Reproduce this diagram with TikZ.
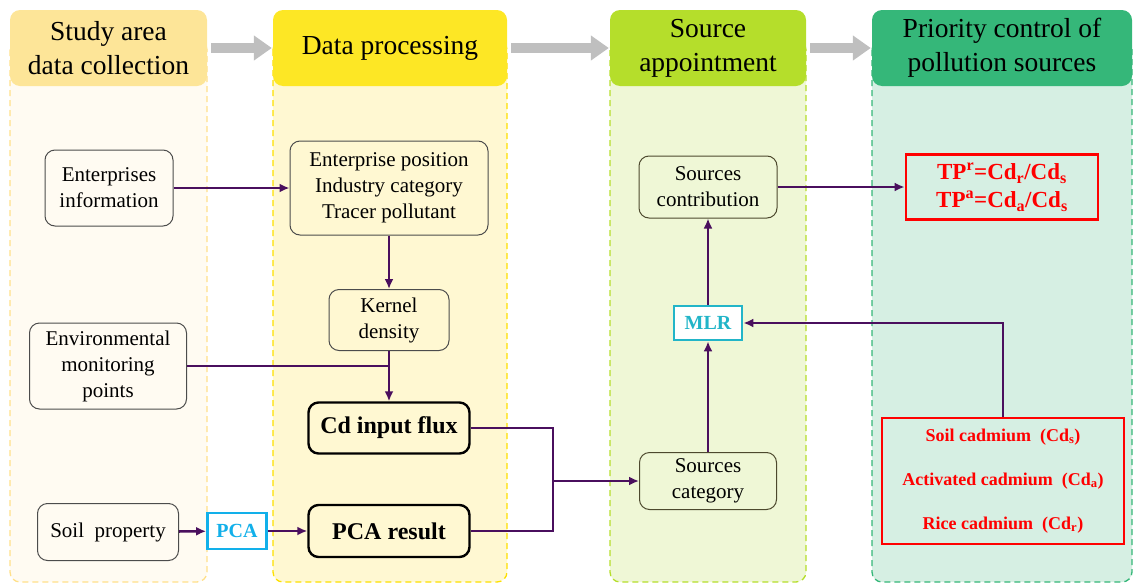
\documentclass[tikz,border=0pt]{standalone}
\usepackage{fontspec}
\setmainfont{Liberation Serif}
\newfontfamily\tnr{Liberation Serif}
\usetikzlibrary{arrows.meta}

\definecolor{headone}{HTML}{FDE598}
\definecolor{panelone}{HTML}{FFFBF2}
\definecolor{lineone}{HTML}{FFE08A}
\definecolor{headtwo}{HTML}{FDE725}
\definecolor{paneltwo}{HTML}{FFF8D2}
\definecolor{linetwo}{HTML}{FDE000}
\definecolor{headthree}{HTML}{B5DE2B}
\definecolor{panelthree}{HTML}{EFF7D6}
\definecolor{linethree}{HTML}{B5DE2B}
\definecolor{headfour}{HTML}{35B779}
\definecolor{panelfour}{HTML}{D6EFE3}
\definecolor{linefour}{HTML}{35B779}
\definecolor{linkcol}{HTML}{4A0F5E}
\definecolor{pcacol}{HTML}{12B0EA}
\definecolor{mlrcol}{HTML}{22B5C8}

\tikzset{
  head/.style={rounded corners=10pt, align=center, inner sep=2pt,
    font=\tnr\fontsize{27.5}{34}\selectfont},
  box/.style={draw=black!70, line width=1pt, rounded corners=10pt, align=center,
    inner sep=2pt, font=\tnr\fontsize{21}{26}\selectfont},
  boldbox/.style={box, draw=black, line width=2.4pt, font=\tnr\fontsize{24}{28}\selectfont\bfseries},
  method/.style={line width=2.8pt, fill=white, inner sep=2pt, font=\tnr\fontsize{20}{24}\selectfont\bfseries},
  result/.style={draw=red, line width=2.8pt, text=red, align=center, inner sep=2pt},
  link/.style={draw=linkcol, line width=2.6pt, -{Latex[length=10pt,width=9pt]}},
  wire/.style={draw=linkcol, line width=2.6pt},
  bigarrow/.style={draw=black!25, line width=10pt, -{Triangle[length=18pt,width=24pt]}}
}

\begin{document}
\begin{tikzpicture}[x=1pt, y=-1pt]
  \useasboundingbox (0,0) rectangle (1141,584);

  % columns
  \foreach \xl/\xr/\c/\txt [count=\i] in {
      10/207/one/{Study area\\data collection},
      273/507/two/{Data processing},
      610/806/three/{Source\\appointment},
      872/1132/four/{Priority control of\\pollution sources}} {
    \draw[dash pattern=on 6pt off 4pt, line width=1.3pt, draw=line\c, fill=panel\c, rounded corners=10pt]
      (\xl,40) rectangle (\xr,582);
    \node[head, fill=head\c, minimum width={\xr pt-\xl pt}, minimum height=76pt]
      (h\i) at ({(\xl+\xr)/2},48) {\txt};
  }
  \foreach \i/\j in {1/2, 2/3, 3/4}
    \draw[bigarrow, shorten <=4pt, shorten >=1pt] (h\i.east) -- (h\j.west);

  % data collection
  \node[box, fill=panelone, minimum width=128pt, minimum height=76pt] (ent) at (109,188) {Enterprises\\information};
  \node[box, fill=panelone, minimum width=157pt, minimum height=86pt] (env) at (108,366) {Environmental\\monitoring\\points};
  \node[box, fill=panelone, minimum width=141pt, minimum height=57pt] (soil) at (108,532) {Soil\ \ property};

  % data processing
  \node[box, fill=paneltwo, minimum width=198pt, minimum height=94pt] (epos) at (389,188) {Enterprise position\\Industry category\\Tracer pollutant};
  \node[box, fill=paneltwo, minimum width=120pt, minimum height=61pt] (kern) at (389,320) {Kernel\\density};
  \node[boldbox, fill=paneltwo, minimum width=161pt, minimum height=51pt] (flux) at (389,428) {Cd input flux};
  \node[boldbox, fill=paneltwo, minimum width=161pt, minimum height=52pt] (pcares) at (389,531) {PCA result};
  \node[method, draw=pcacol, text=pcacol, minimum width=59pt, minimum height=36pt] (pca) at (237,531) {PCA};

  % source appointment
  \node[box, draw=black!60!olive, fill=panelthree, minimum width=138pt, minimum height=62pt] (scon) at (708,187) {Sources\\contribution};
  \node[method, draw=mlrcol, text=mlrcol, minimum width=68pt, minimum height=34pt] (mlr) at (708,323) {MLR};
  \node[box, draw=black!60!olive, fill=panelthree, minimum width=137pt, minimum height=57pt] (scat) at (708,481) {Sources\\category};

  % priority control
  \node[result, fill=panelfour, minimum width=192pt, minimum height=65pt, font=\tnr\fontsize{23}{28}\selectfont\bfseries]
    (tp) at (1002,187) {TP\textsuperscript{r}=Cd\textsubscript{r}/Cd\textsubscript{s}\\TP\textsuperscript{a}=Cd\textsubscript{a}/Cd\textsubscript{s}};
  \node[result, fill=panelfour, minimum width=242pt, minimum height=126pt, font=\tnr\fontsize{18}{44}\selectfont\bfseries]
    (cdbox) at (1003,481) {Soil\ cadmium\ \ (Cd\textsubscript{s})\\Activated\ cadmium\ \ (Cd\textsubscript{a})\\Rice\ cadmium\ \ (Cd\textsubscript{r})};

  % connectors
  \draw[link] (ent) -- (epos);
  \draw[link] (epos) -- (kern);
  \draw[link] (kern) -- (flux);
  \draw[wire] (env.east) -- (env.east -| kern);
  \draw[link] (soil) -- (pca);
  \draw[link] (pca) -- (pcares);
  \coordinate (mid) at (553,481);
  \draw[wire] (flux.east) -| (mid) |- (pcares.east);
  \draw[link] (mid) -- (scat);
  \draw[link] (scat) -- (mlr);
  \draw[link] (mlr) -- (scon);
  \draw[link] (cdbox.north) |- (mlr);
  \draw[link] (scon) -- (tp);
\end{tikzpicture}
\end{document}
